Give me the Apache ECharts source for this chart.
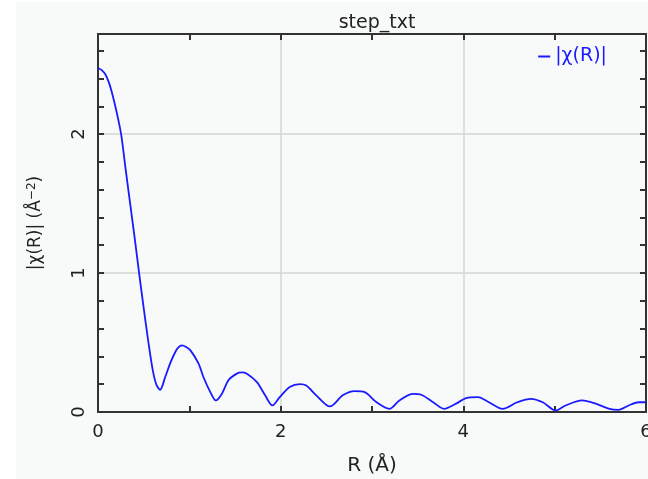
<!DOCTYPE html>
<html>
<head>
<meta charset="utf-8">
<script src="https://cdn.jsdelivr.net/npm/echarts@6/dist/echarts.min.js"></script>
<style>
html,body{margin:0;padding:0;background:#ffffff;}
#c{width:648px;height:479px;}
</style>
</head>
<body>
<div id="c"></div>
<script>
// R values (Å)
var rValues = [0.00,0.04,0.08,0.12,0.16,0.20,0.253,0.30,0.35,0.40,0.45,0.50,0.55,0.60,0.64,0.68,
  0.735,0.79,0.845,0.88,0.92,0.96,1.01,1.10,1.155,1.23,1.29,1.355,1.43,1.52,1.575,1.63,1.74,1.83,1.91,
  1.99,2.10,2.21,2.28,2.39,2.54,2.68,2.81,2.92,3.05,3.19,3.30,3.45,3.54,3.67,3.79,3.92,4.03,4.16,4.28,
  4.43,4.59,4.74,4.87,5.01,5.12,5.30,5.45,5.60,5.70,5.81,5.92,6.00];
// |chi(R)| values
var chiValues = [2.475,2.46,2.43,2.37,2.28,2.17,2.00,1.76,1.51,1.26,1.00,0.75,0.51,0.30,0.195,0.16,
  0.25,0.35,0.43,0.465,0.48,0.47,0.445,0.35,0.25,0.143,0.083,0.13,0.23,0.276,0.285,0.276,0.215,0.12,0.047,
  0.107,0.18,0.20,0.19,0.12,0.04,0.12,0.15,0.143,0.07,0.023,0.083,0.13,0.124,0.07,0.023,0.06,0.10,0.107,0.07,
  0.023,0.07,0.095,0.07,0.011,0.047,0.083,0.06,0.023,0.016,0.047,0.07,0.07];
var xTickLabels = ['0','2','4','6'];
var yTickLabels = ['0','1','2'];
var titleText = 'step_txt';
var seriesName = '|χ(R)|';

var data = rValues.map(function(r,i){return [r, chiValues[i]];});
var FONT = 'DejaVu Sans';
var axisColor = '#333333';
var xMax = 6, yMax = 2.72;

function isInt(v){return Math.abs(v - Math.round(v)) < 1e-6;}

var chart = echarts.init(document.getElementById('c'));
chart.setOption({
  backgroundColor: 'transparent',
  animation: false,
  graphic: [{
    type: 'rect', z: -10, silent: true,
    shape: {x: 16, y: 2, width: 632, height: 477},
    style: {fill: '#f7faf8'}
  }],
  title: {
    text: titleText, left: 372, top: 9, textAlign: 'center',
    textStyle: {fontFamily: FONT, fontSize: 19, fontWeight: 'normal', color: '#222'}
  },
  legend: {
    data: [seriesName], right: 36, top: 42,
    itemWidth: 12, itemHeight: 2, itemGap: 6,
    icon: 'rect',
    textStyle: {fontFamily: FONT, fontSize: 19, color: '#1a1aff'}
  },
  grid: {left: 98, right: 2, top: 34, bottom: 67, outerBoundsMode: 'none', containLabel: false},
  xAxis: [{
    type: 'value', min: 0, max: xMax, interval: 1, position: 'bottom',
    name: 'R (Å)', nameLocation: 'middle', nameGap: 44,
    nameTextStyle: {fontFamily: FONT, fontSize: 20, color: '#222'},
    axisLine: {show: true, onZero: false, lineStyle: {color: axisColor, width: 2}},
    axisTick: {show: true, inside: true, length: 6, lineStyle: {color: axisColor, width: 2}},
    axisLabel: {
      margin: 11, fontFamily: FONT, fontSize: 18, color: '#222',
      formatter: function(v){ var i = xTickLabels.indexOf(String(Math.round(v))); return (isInt(v) && Math.round(v)%2===0 && i>=0) ? xTickLabels[i] : ''; }
    },
    splitLine: {show: false}
  }, {
    type: 'value', min: 0, max: xMax, interval: 1, position: 'top',
    axisLine: {show: true, onZero: false, lineStyle: {color: axisColor, width: 2}},
    axisTick: {show: true, inside: true, length: 6, lineStyle: {color: axisColor, width: 2}},
    axisLabel: {show: false}, splitLine: {show: false}
  }, {
    type: 'value', min: 0, max: xMax, interval: 2, position: 'bottom',
    axisLine: {show: false, onZero: false}, axisTick: {show: false}, axisLabel: {show: false},
    splitLine: {show: true, lineStyle: {color: '#d4d6d4', width: 1.5}}
  }],
  yAxis: [{
    type: 'value', min: 0, max: yMax, interval: 0.2, position: 'left',
    name: '|χ(R)| (Å{sup|−2})', nameLocation: 'middle', nameGap: 52, nameRotate: 90,
    nameTextStyle: {fontFamily: FONT, fontSize: 17, color: '#222',
      rich: {sup: {fontFamily: FONT, fontSize: 12, color: '#222', verticalAlign: 'top', padding: [0,0,8,0]}}},
    axisLine: {show: true, onZero: false, lineStyle: {color: axisColor, width: 2}},
    axisTick: {show: true, inside: true, length: 6, lineStyle: {color: axisColor, width: 2}},
    axisLabel: {
      margin: 10, rotate: 90, fontFamily: FONT, fontSize: 18, color: '#222', showMaxLabel: false,
      formatter: function(v){ if (!isInt(v)) return ''; var s = String(Math.round(v)); return yTickLabels.indexOf(s)>=0 ? s : ''; }
    },
    splitLine: {show: false}
  }, {
    type: 'value', min: 0, max: yMax, interval: 0.2, position: 'right',
    axisLine: {show: true, onZero: false, lineStyle: {color: axisColor, width: 2}},
    axisTick: {show: true, inside: true, length: 6, lineStyle: {color: axisColor, width: 2}},
    axisLabel: {show: false}, splitLine: {show: false}
  }, {
    type: 'value', min: 0, max: yMax, interval: 1, position: 'left',
    axisLine: {show: false, onZero: false}, axisTick: {show: false}, axisLabel: {show: false},
    splitLine: {show: true, lineStyle: {color: '#d4d6d4', width: 1.5}}
  }],
  series: [{
    name: seriesName, type: 'line', data: data, xAxisIndex: 0, yAxisIndex: 0,
    symbol: 'none', smooth: 0.3,
    lineStyle: {color: '#1a1aff', width: 1.8},
    itemStyle: {color: '#1a1aff'}
  }]
});
</script>
</body>
</html>
